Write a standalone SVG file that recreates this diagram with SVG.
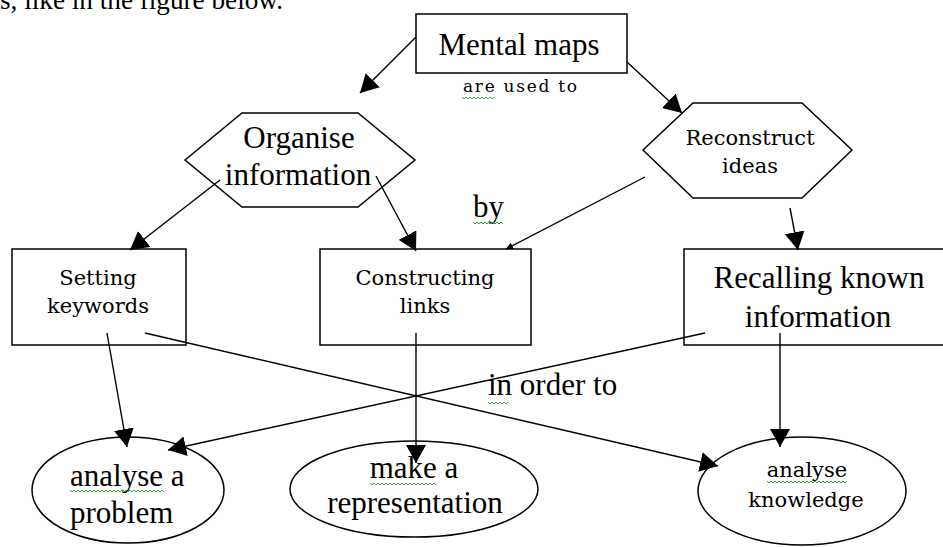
<svg xmlns="http://www.w3.org/2000/svg" width="943" height="547" viewBox="0 0 943 547">
<style>
.s{fill:#fff;stroke:#000;stroke-width:1.5}
.t{font-family:"Liberation Serif","Times New Roman",serif;fill:#000;font-size:31px}
.d{font-family:"DejaVu Serif",serif;fill:#000;font-size:21px}
.c{stroke:#000;stroke-width:1.4;fill:none}
.sq{stroke:#3a3;stroke-width:1;fill:none}
</style>
<defs>
<marker id="ah" viewBox="0 0 10 10" refX="10" refY="5" markerWidth="18" markerHeight="20" markerUnits="userSpaceOnUse" orient="auto" preserveAspectRatio="none">
<path d="M0,0 L10,5 L0,10 z" fill="#000"/>
</marker>
<marker id="ahs" viewBox="0 0 10 10" refX="10" refY="5" markerWidth="7" markerHeight="7" markerUnits="userSpaceOnUse" orient="auto">
<path d="M0,0 L10,5 L0,10 z" fill="#000"/>
</marker>
</defs>
<rect width="943" height="547" fill="#fff"/>
<text class="t" x="0" y="9" style="font-size:28px" textLength="283" lengthAdjust="spacingAndGlyphs">s, like in the figure below.</text>

<g id="mental-maps">
<rect class="s" x="416" y="14" width="211" height="59"/>
<text class="t" x="519" y="55" text-anchor="middle">Mental maps</text>
</g>

<g id="organise">
<polygon class="s" points="185,160 242,113 358,113 415,160 358,207 242,207"/>
<text class="t" x="299" y="148" text-anchor="middle">Organise</text>
<text class="t" x="298" y="185" text-anchor="middle">information</text>
</g>

<g id="reconstruct">
<polygon class="s" points="643,150 693,103 802,103 852,150 802,198 693,198"/>
<text class="d" x="750" y="145" text-anchor="middle">Reconstruct</text>
<text class="d" x="750" y="173" text-anchor="middle">ideas</text>
</g>

<g id="setting">
<rect class="s" x="12" y="249" width="174" height="96"/>
<text class="d" x="98" y="285" text-anchor="middle">Setting</text>
<text class="d" x="98" y="313" text-anchor="middle">keywords</text>
</g>

<g id="constructing">
<rect class="s" x="320" y="249" width="211" height="96"/>
<text class="d" x="425" y="285" text-anchor="middle">Constructing</text>
<text class="d" x="425" y="313" text-anchor="middle">links</text>
</g>

<g id="recalling">
<rect class="s" x="684" y="249" width="270" height="96"/>
<text class="t" x="819" y="288" text-anchor="middle">Recalling known</text>
<text class="t" x="818" y="327" text-anchor="middle">information</text>
</g>

<g id="analyse-problem">
<ellipse class="s" cx="128" cy="490" rx="96" ry="53"/>
<text class="t" x="70" y="486">analyse a</text>
<text class="t" x="70" y="523">problem</text>
</g>

<g id="make-representation">
<ellipse class="s" cx="414" cy="489" rx="124" ry="48"/>
<text class="t" x="414" y="478" text-anchor="middle">make a</text>
<text class="t" x="415" y="513" text-anchor="middle">representation</text>
</g>

<g id="analyse-knowledge">
<ellipse class="s" cx="802" cy="491" rx="104" ry="54"/>
<text class="d" x="807" y="477" text-anchor="middle">analyse</text>
<text class="d" x="806" y="507" text-anchor="middle">knowledge</text>
</g>

<g id="connectors">
<line class="c" x1="416" y1="37" x2="360" y2="93" marker-end="url(#ah)"/>
<line class="c" x1="627" y1="62" x2="682" y2="113" marker-end="url(#ah)"/>
<line class="c" x1="220" y1="180" x2="130" y2="250" marker-end="url(#ah)"/>
<line class="c" x1="376" y1="176" x2="416" y2="251" marker-end="url(#ah)"/>
<line class="c" x1="645" y1="177" x2="506" y2="249" marker-end="url(#ahs)"/>
<line class="c" x1="790" y1="208" x2="798" y2="250" marker-end="url(#ah)"/>
<line class="c" x1="107" y1="333" x2="127" y2="447" marker-end="url(#ah)"/>
<line class="c" x1="145" y1="333" x2="718" y2="466" marker-end="url(#ah)"/>
<line class="c" x1="416" y1="333" x2="416" y2="463" marker-end="url(#ah)"/>
<line class="c" x1="705" y1="333" x2="168" y2="450" marker-end="url(#ah)"/>
<line class="c" x1="780" y1="333" x2="780" y2="447" marker-end="url(#ah)"/>
<text class="t" x="488" y="395">in order to</text>
<text class="t" x="473" y="217">by</text>
<text class="d" x="463" y="92" style="font-size:17px" textLength="114">are used to</text>
</g>

<g id="spellcheck">
<path class="sq" d="M462,97 l2,2 l2,-2 l2,2 l2,-2 l2,2 l2,-2 l2,2 l2,-2 l2,2 l2,-2 l2,2 l2,-2 l2,2 l2,-2 l2,2 l2,-2"/>
<path class="sq" d="M473,222 l2,2 l2,-2 l2,2 l2,-2 l2,2 l2,-2 l2,2 l2,-2 l2,2 l2,-2 l2,2 l2,-2 l2,2 l2,-2 l2,2"/>
<path class="sq" d="M488,402 l2,2 l2,-2 l2,2 l2,-2 l2,2 l2,-2 l2,2 l2,-2 l2,2 l2,-2"/>
<path class="sq" d="M70,490 l2,2 l2,-2 l2,2 l2,-2 l2,2 l2,-2 l2,2 l2,-2 l2,2 l2,-2 l2,2 l2,-2 l2,2 l2,-2 l2,2 l2,-2 l2,2 l2,-2 l2,2 l2,-2 l2,2 l2,-2 l2,2 l2,-2 l2,2 l2,-2 l2,2 l2,-2 l2,2 l2,-2 l2,2 l2,-2 l2,2 l2,-2 l2,2 l2,-2 l2,2 l2,-2 l2,2 l2,-2 l2,2 l2,-2 l2,2 l2,-2 l2,2 l2,-2 l2,2"/>
<path class="sq" d="M370,483 l2,2 l2,-2 l2,2 l2,-2 l2,2 l2,-2 l2,2 l2,-2 l2,2 l2,-2 l2,2 l2,-2 l2,2 l2,-2 l2,2 l2,-2 l2,2 l2,-2 l2,2 l2,-2 l2,2 l2,-2 l2,2 l2,-2 l2,2 l2,-2 l2,2 l2,-2 l2,2 l2,-2 l2,2 l2,-2 l2,2"/>
<path class="sq" d="M767,481 l2,2 l2,-2 l2,2 l2,-2 l2,2 l2,-2 l2,2 l2,-2 l2,2 l2,-2 l2,2 l2,-2 l2,2 l2,-2 l2,2 l2,-2 l2,2 l2,-2 l2,2 l2,-2 l2,2 l2,-2 l2,2 l2,-2 l2,2 l2,-2 l2,2 l2,-2 l2,2 l2,-2 l2,2 l2,-2 l2,2 l2,-2 l2,2 l2,-2 l2,2 l2,-2 l2,2 l2,-2"/>
</g>
</svg>
